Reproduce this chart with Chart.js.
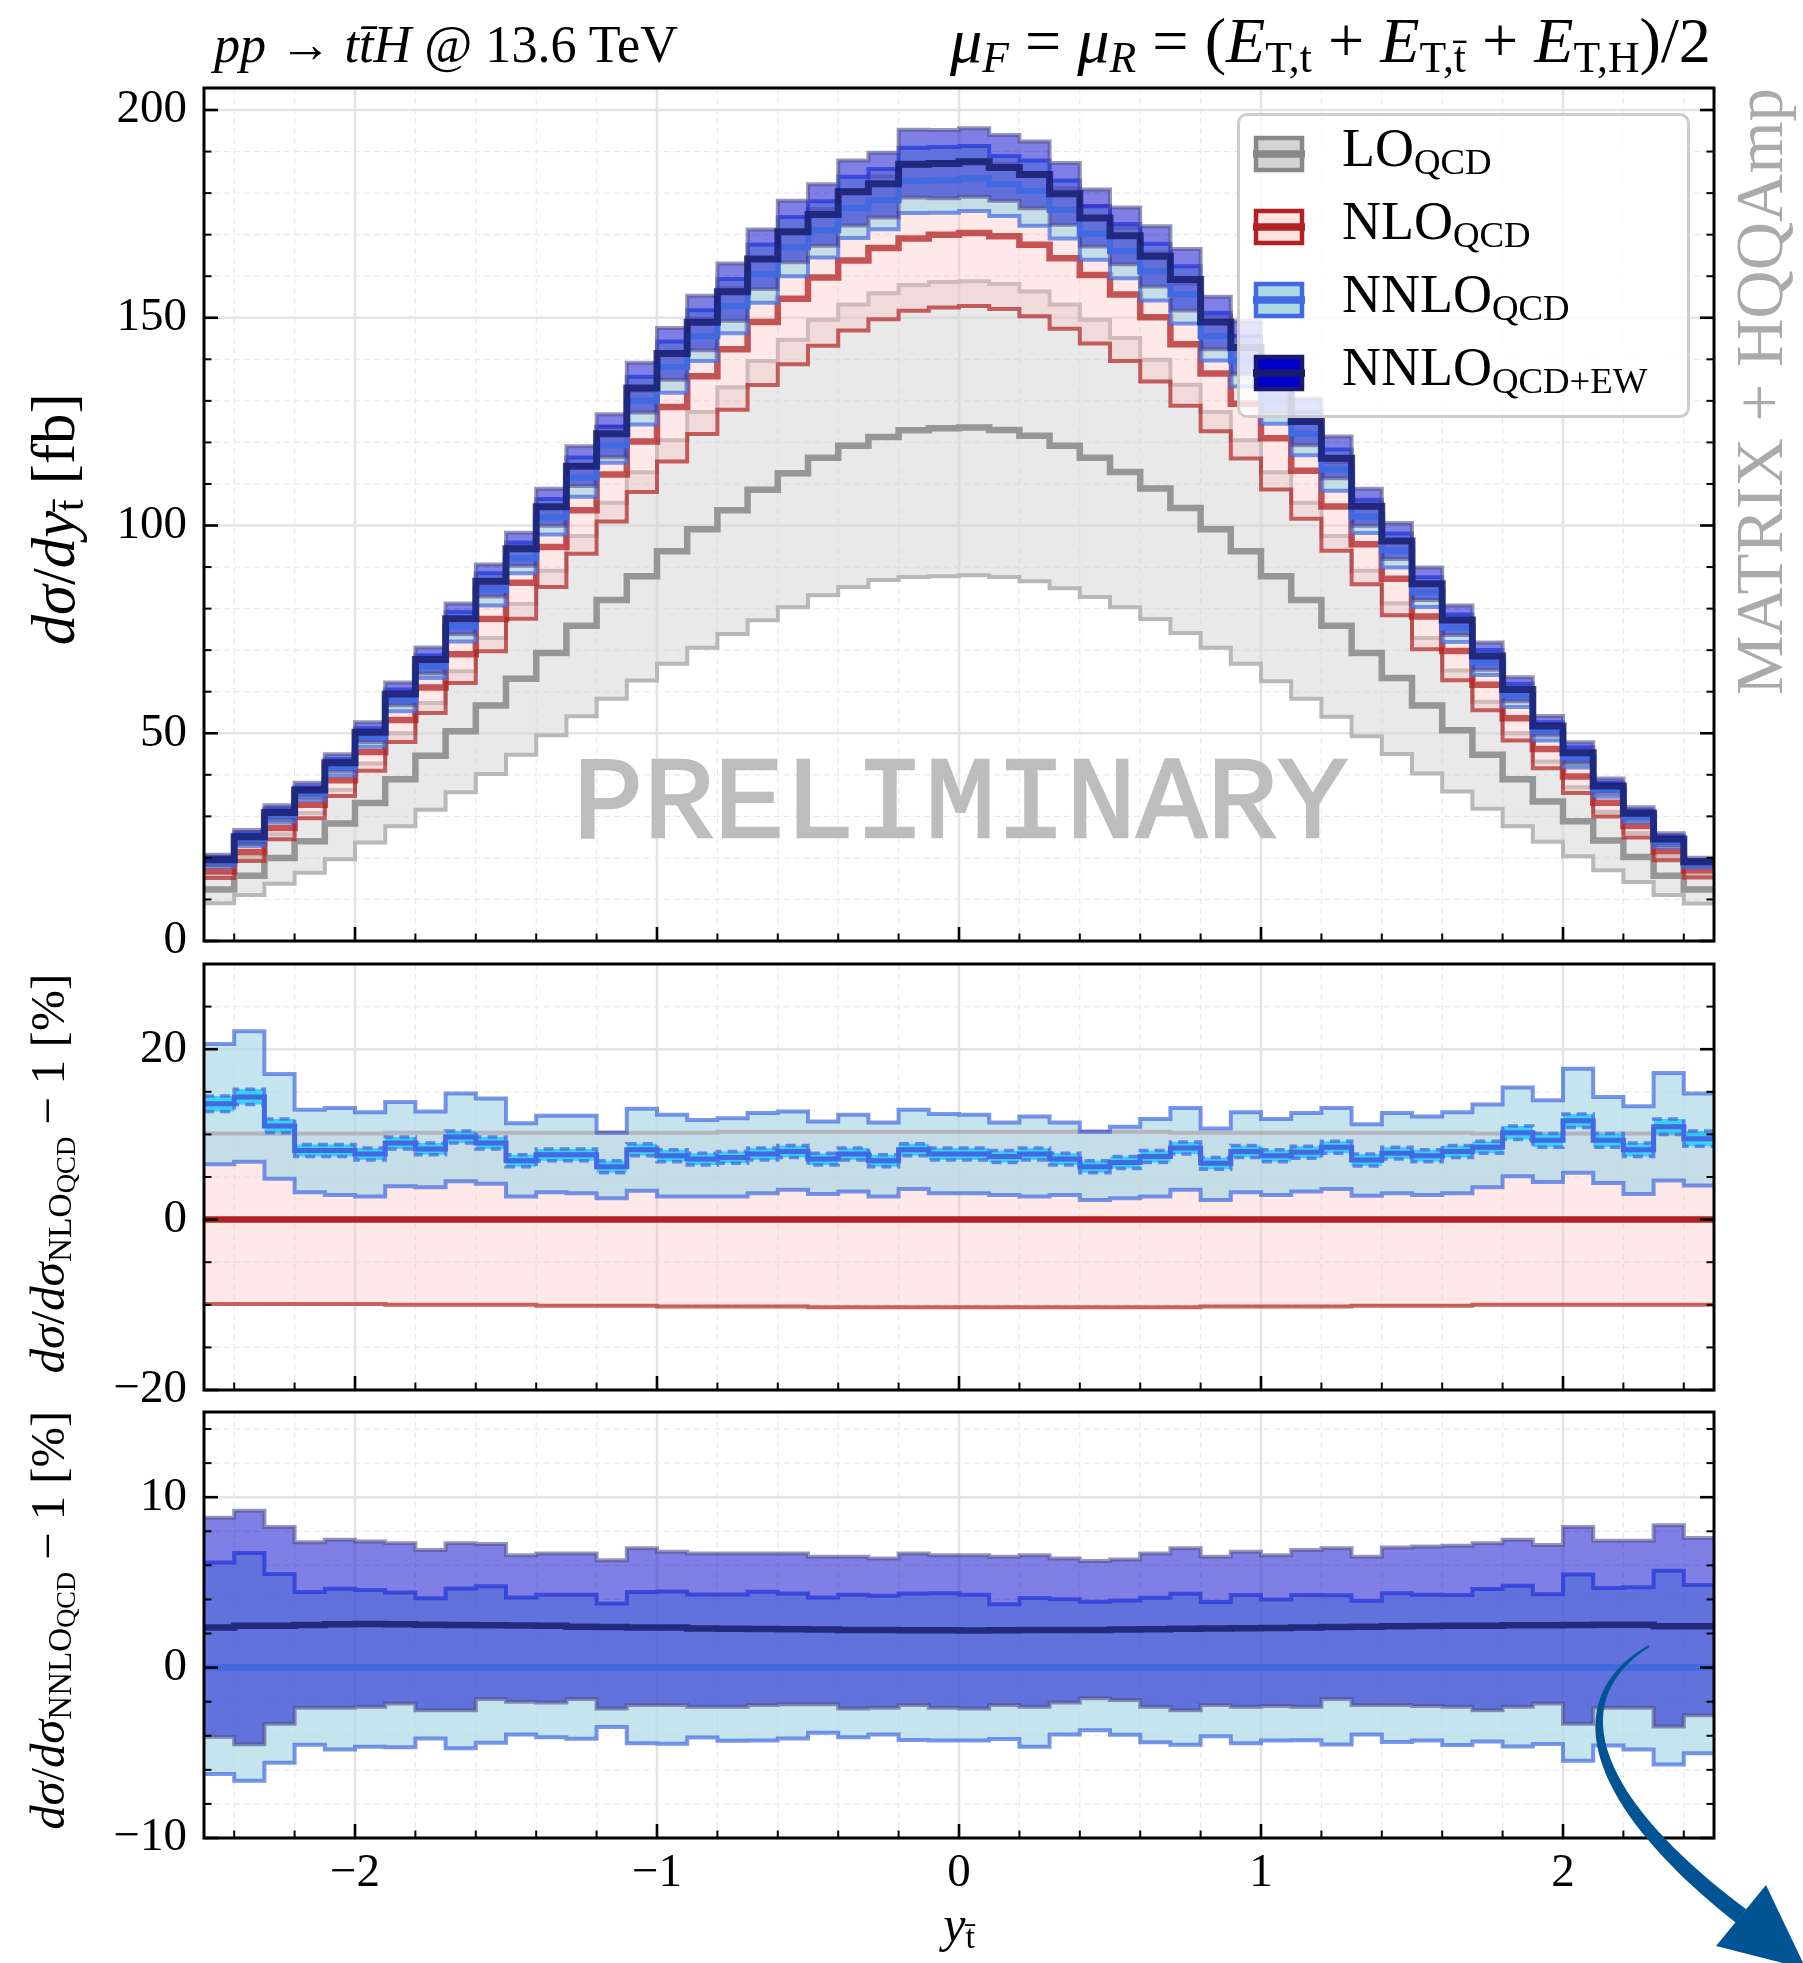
<!DOCTYPE html>
<html lang="en">
<head>
<meta charset="UTF-8">
<title>ttH rapidity of the anti-top</title>
<script src="https://cdn.jsdelivr.net/npm/chart.js"></script>
<style>
  html, body { margin: 0; padding: 0; background: #fff; }
  body { width: 1803px; height: 1963px; position: relative; overflow: hidden; }
  canvas.layer { position: absolute; left: 0; top: 0; width: 1803px; height: 1963px; }
  .txt { position: absolute; left: 0; top: 0; white-space: nowrap; line-height: 1;
         font-family: 'Liberation Serif', serif; color: #000; }
  .txt sub { font-size: 0.68em; vertical-align: -0.22em; line-height: 0; }
  .txt sub sub { font-size: 0.8em; vertical-align: -0.15em; }
  .stamp { -webkit-text-stroke: 2.5px #bdbdbd; }
  #legend { position: absolute; left: 1237px; top: 113px; width: 453px; height: 305px; box-sizing: border-box;
            border: 3px solid rgba(200,200,200,0.9); border-radius: 10px; background: rgba(255,255,255,0.8); }
  .handle { position: absolute; }
  #arrow { position: absolute; left: 0; top: 0; }
</style>
</head>
<body>
<canvas id="cMain" class="layer"></canvas>
<canvas id="cR1" class="layer"></canvas>
<canvas id="cR2" class="layer"></canvas>
<div id="legend"></div>
<svg id="arrow" width="1803" height="1963"></svg>
<script>
// bin edges of the y(tbar) histogram, 50 bins of 0.1
const binEdges = [-2.5, -2.4, -2.3, -2.2, -2.1, -2.0, -1.9, -1.8, -1.7, -1.6, -1.5, -1.4, -1.3, -1.2, -1.1,
  -1.0, -0.9, -0.8, -0.7, -0.6, -0.5, -0.4, -0.3, -0.2, -0.1, 0.0, 0.1, 0.2, 0.3, 0.4, 0.5, 0.6, 0.7, 0.8,
  0.9, 1.0, 1.1, 1.2, 1.3, 1.4, 1.5, 1.6, 1.7, 1.8, 1.9, 2.0, 2.1, 2.2, 2.3, 2.4, 2.5];

// main panel, fb
const loCentral = [12.4, 15.7, 20.0, 24.0, 28.3, 33.2, 38.9, 44.6, 50.5, 56.7,
  63.1, 69.3, 75.9, 82.1, 87.8, 93.8, 99.1, 103.7, 108.6, 112.6,
  116.3, 119.2, 121.3, 122.9, 123.4, 123.6, 123.0, 121.6, 119.2, 116.3,
  112.9, 108.9, 104.2, 99.1, 93.8, 87.8, 82.1, 75.9, 69.3, 63.3,
  56.7, 50.7, 44.8, 38.9, 33.6, 28.8, 24.2, 20.2, 15.7, 12.4];
const loUp = [15.9, 20.2, 25.7, 30.8, 36.4, 42.7, 50.0, 57.3, 64.9, 72.9,
  81.1, 89.1, 97.5, 105.5, 112.8, 120.5, 127.3, 133.3, 139.6, 144.7,
  149.5, 153.2, 155.9, 157.9, 158.6, 158.8, 158.1, 156.3, 153.2, 149.5,
  145.1, 139.9, 133.9, 127.3, 120.5, 112.8, 105.5, 97.5, 89.1, 81.3,
  72.9, 65.1, 57.6, 50.0, 43.2, 37.0, 31.1, 26.0, 20.2, 15.9];
const loDn = [9.1, 11.1, 13.8, 16.4, 19.7, 23.7, 27.6, 31.6, 35.8, 40.2,
  44.8, 49.5, 54.1, 58.3, 62.7, 66.7, 70.6, 73.9, 77.2, 80.3,
  83.2, 85.2, 86.9, 87.6, 87.8, 88.0, 87.6, 86.6, 84.9, 82.8,
  80.3, 77.5, 74.1, 70.6, 66.7, 62.5, 58.3, 54.0, 49.3, 45.0,
  40.3, 36.0, 31.8, 27.6, 23.9, 20.4, 17.0, 14.2, 11.1, 9.0];
const nloCentral = [16.8, 21.4, 27.2, 32.8, 38.7, 45.5, 53.2, 61.0, 69.0, 77.5,
  86.2, 94.8, 103.7, 112.3, 120.2, 128.5, 135.9, 142.4, 149.0, 154.6,
  159.7, 163.8, 166.8, 169.1, 170.0, 170.4, 169.6, 167.6, 164.3, 160.3,
  155.6, 150.1, 143.6, 136.6, 129.3, 121.0, 113.2, 104.6, 95.5, 87.2,
  78.1, 69.8, 61.7, 53.6, 46.2, 39.6, 33.3, 27.7, 21.6, 17.0];

// middle panel, % w.r.t. NLO_QCD
const nloUpPct = [10.1, 10.1, 10.1, 10.1, 10.1, 10.1, 10.2, 10.2, 10.2, 10.2,
  10.2, 10.2, 10.2, 10.2, 10.2, 10.2, 10.2, 10.3, 10.3, 10.3,
  10.3, 10.3, 10.3, 10.3, 10.3, 10.3, 10.3, 10.3, 10.3, 10.3,
  10.3, 10.3, 10.2, 10.2, 10.2, 10.2, 10.2, 10.2, 10.2, 10.2,
  10.2, 10.2, 10.1, 10.1, 10.1, 10.1, 10.1, 10.1, 10.1, 10.1];
const nloDnPct = [-9.9, -9.9, -9.9, -9.9, -9.9, -9.9, -10.0, -10.0, -10.0, -10.0,
  -10.0, -10.1, -10.1, -10.1, -10.1, -10.2, -10.2, -10.2, -10.2, -10.2,
  -10.3, -10.3, -10.3, -10.3, -10.3, -10.3, -10.3, -10.3, -10.3, -10.3,
  -10.3, -10.3, -10.3, -10.2, -10.2, -10.2, -10.2, -10.2, -10.1, -10.1,
  -10.1, -10.1, -10.0, -10.0, -10.0, -10.0, -10.0, -10.0, -10.0, -10.0];
const nnloPct = [13.6, 14.4, 11.0, 8.1, 8.1, 7.7, 9.0, 8.3, 9.7, 9.0,
  6.9, 7.6, 7.6, 6.2, 8.2, 7.5, 7.1, 7.3, 7.7, 8.0,
  7.1, 7.7, 6.9, 8.2, 7.7, 7.7, 7.4, 7.7, 7.1, 6.2,
  6.7, 7.4, 8.4, 6.6, 8.0, 7.5, 7.9, 8.5, 7.0, 7.8,
  7.5, 8.0, 8.5, 10.2, 9.3, 11.6, 9.3, 8.2, 10.9, 9.5];
const nnloUpPct = [20.6, 22.1, 17.1, 12.9, 13.1, 12.6, 13.8, 12.7, 14.8, 14.2,
  11.3, 12.2, 12.2, 10.2, 13.0, 12.3, 11.7, 11.9, 12.5, 12.7,
  11.5, 12.3, 11.4, 12.9, 12.4, 12.3, 11.4, 12.1, 11.4, 10.3,
  10.9, 11.8, 13.1, 10.7, 12.6, 11.8, 12.5, 13.1, 11.2, 12.5,
  12.1, 12.6, 13.5, 15.5, 14.0, 17.7, 14.4, 13.3, 17.2, 14.8];
const nnloDnPct = [6.5, 6.8, 4.8, 3.2, 2.9, 2.7, 3.9, 3.8, 4.5, 4.2,
  2.7, 3.2, 3.1, 2.5, 3.4, 2.7, 2.7, 2.7, 3.1, 3.5,
  3.0, 3.3, 2.7, 3.6, 3.1, 3.1, 2.9, 2.7, 2.9, 2.3,
  2.5, 2.7, 3.5, 2.3, 3.2, 2.9, 3.3, 3.6, 2.8, 3.1,
  2.9, 3.1, 3.8, 5.1, 4.4, 5.5, 4.3, 3.0, 4.6, 4.0];
// statistical error of the NNLO central value, %
const nnloStatPct = [0.9, 0.9, 0.8, 0.7, 0.7, 0.7, 0.7, 0.7, 0.7, 0.7,
  0.7, 0.7, 0.7, 0.7, 0.7, 0.7, 0.7, 0.7, 0.7, 0.7,
  0.7, 0.7, 0.7, 0.7, 0.7, 0.7, 0.7, 0.7, 0.7, 0.7,
  0.7, 0.7, 0.7, 0.7, 0.7, 0.7, 0.7, 0.7, 0.7, 0.7,
  0.7, 0.7, 0.7, 0.8, 0.8, 0.8, 0.8, 0.8, 0.9, 0.9];

// bottom panel, % w.r.t. NNLO_QCD
const ewPct = [2.36, 2.45, 2.46, 2.50, 2.55, 2.56, 2.55, 2.52, 2.50, 2.49,
  2.47, 2.45, 2.40, 2.38, 2.36, 2.35, 2.30, 2.28, 2.27, 2.25,
  2.24, 2.21, 2.20, 2.19, 2.19, 2.18, 2.19, 2.20, 2.20, 2.21,
  2.24, 2.25, 2.28, 2.30, 2.31, 2.33, 2.35, 2.38, 2.40, 2.42,
  2.44, 2.45, 2.46, 2.48, 2.49, 2.50, 2.52, 2.51, 2.43, 2.42];
const ewUpPct = [8.80, 9.20, 8.25, 7.35, 7.50, 7.40, 7.30, 6.90, 7.30, 7.25,
  6.60, 6.70, 6.70, 6.30, 7.00, 6.80, 6.70, 6.70, 6.70, 6.70,
  6.50, 6.50, 6.40, 6.70, 6.60, 6.60, 6.50, 6.60, 6.40, 6.25,
  6.35, 6.70, 7.00, 6.50, 6.80, 6.60, 6.90, 7.00, 6.50, 7.05,
  7.10, 7.15, 7.30, 7.50, 7.20, 8.25, 7.45, 7.45, 8.35, 7.60];
const ewDnPct = [-4.06, -4.50, -3.30, -2.35, -2.35, -2.30, -2.10, -2.50, -2.50, -1.85,
  -2.00, -2.05, -1.85, -2.40, -2.20, -2.20, -2.30, -2.30, -2.20, -2.15,
  -2.15, -2.40, -2.35, -2.20, -2.35, -2.40, -2.20, -2.30, -2.05, -1.80,
  -1.90, -2.30, -2.50, -2.20, -2.30, -2.25, -2.30, -1.85, -2.20, -2.20,
  -2.25, -2.30, -2.50, -2.30, -2.10, -3.30, -2.35, -2.35, -3.45, -2.80];

// tick positions
const xTicks = [-2.4, -2.2, -2.0, -1.8, -1.6, -1.4, -1.2, -1.0, -0.8, -0.6, -0.4, -0.2, 0,
  0.2, 0.4, 0.6, 0.8, 1.0, 1.2, 1.4, 1.6, 1.8, 2.0, 2.2, 2.4];
const mainYTicks = [0, 10, 20, 30, 40, 50, 60, 70, 80, 90, 100, 110, 120, 130, 140, 150, 160, 170, 180, 190, 200];
const r1YTicks = [-20, -15, -10, -5, 0, 5, 10, 15, 20, 25];
const r2YTicks = [-10, -8, -6, -4, -2, 0, 2, 4, 6, 8, 10, 12, 14];

const legendItems = [
  { name: 'LO', sub: 'QCD', edge: '#888888', fill: '#d3d3d3', line: '#888888' },
  { name: 'NLO', sub: 'QCD', edge: '#b22222', fill: '#ffe4e1', line: '#b22222' },
  { name: 'NNLO', sub: 'QCD', edge: '#4169e1', fill: '#add8e6', line: '#4169e1' },
  { name: 'NNLO', sub: 'QCD+EW', edge: '#191970', fill: '#0000cd', line: '#191970' }
];

// main panel curves follow from the ratios
const scalePct = (base, pct) => base.map((b, i) => b * (1 + pct[i] / 100));
const relPct = (num, den) => num.map((v, i) => (v / den[i] - 1) * 100);
const nloUp = scalePct(nloCentral, nloUpPct);
const nloDn = scalePct(nloCentral, nloDnPct);
const nnloCentral = scalePct(nloCentral, nnloPct);
const nnloUp = scalePct(nloCentral, nnloUpPct);
const nnloDn = scalePct(nloCentral, nnloDnPct);
const ewCentral = scalePct(nnloCentral, ewPct);
const ewUp = scalePct(nnloCentral, ewUpPct);
const ewDn = scalePct(nnloCentral, ewDnPct);
const nnloUpRel = relPct(nnloUp, nnloCentral);
const nnloDnRel = relPct(nnloDn, nnloCentral);
const nnloStatUp = nnloPct.map((v, i) => v + nnloStatPct[i]);
const nnloStatDn = nnloPct.map((v, i) => v - nnloStatPct[i]);
const zeroLine = nloCentral.map(() => 0);

// colours
const C = {
  loFill: 'rgba(211,211,211,0.5)', loEdge: '#b8b8b8', loLine: '#969696',
  nloFill: 'rgba(255,190,190,0.35)', nloEdge: 'rgba(178,34,34,0.7)', nloLine: 'rgba(178,34,34,0.75)',
  nnloFill: 'rgba(173,216,230,0.7)', nnloEdge: 'rgba(65,105,225,0.7)', nnloLine: '#4169e1',
  ewFill: 'rgba(0,0,205,0.5)', ewEdge: 'rgba(80,80,140,0.6)', ewLine: 'rgba(25,30,110,0.85)'
};

Chart.defaults.font.family = "'Liberation Serif', serif";
Chart.defaults.color = '#000';

const PAGE_W = 1803, PAGE_H = 1963;
const AX_LEFT = 204, AX_RIGHT = 1714;

function hist(vals) {
  const pts = vals.map((v, i) => ({ x: binEdges[i], y: v }));
  pts.push({ x: binEdges[binEdges.length - 1], y: vals[vals.length - 1] });
  return pts;
}

function line(vals, color, width, dash) {
  return { data: hist(vals), borderColor: color, borderWidth: width, borderDash: dash || [],
    fill: false, stepped: 'before', pointRadius: 0, borderJoinStyle: 'miter' };
}

// band = invisible upper line filled down to the lower edge, then both edges on top
function addBand(list, up, dn, fillColor, edgeColor, edgeWidth, dash) {
  const i = list.length;
  list.push({ data: hist(up), borderWidth: 0, borderColor: 'rgba(0,0,0,0)', backgroundColor: fillColor,
    fill: i + 1, stepped: 'before', pointRadius: 0 });
  list.push(line(dn, edgeColor, edgeWidth, dash));
  list.push(line(up, edgeColor, edgeWidth, dash));
}

function isMajor(v, step) {
  return Math.abs(v / step - Math.round(v / step)) < 1e-6;
}
function fmt(v) {
  const r = Math.round(v);
  return r < 0 ? '\u2212' + Math.abs(r) : String(r);
}

function framePlugin(cfg) {
  return {
    id: 'frame_' + cfg.name,
    beforeDatasetsDraw(chart) {
      const { ctx, chartArea: a } = chart;
      const xs = chart.scales.x, ys = chart.scales.y;
      ctx.save();
      const grid = (x1, y1, x2, y2, major) => {
        ctx.beginPath();
        ctx.strokeStyle = major ? '#e4e4e4' : '#eaeaea';
        ctx.lineWidth = major ? 2.6 : 1.2;
        ctx.setLineDash(major ? [] : [6, 4]);
        ctx.moveTo(x1, y1); ctx.lineTo(x2, y2); ctx.stroke();
      };
      xTicks.forEach(v => { const p = xs.getPixelForValue(v); grid(p, a.top, p, a.bottom, isMajor(v, 1)); });
      cfg.yTicks.forEach(v => { const p = ys.getPixelForValue(v); grid(a.left, p, a.right, p, isMajor(v, cfg.major)); });
      ctx.restore();
    },
    afterDatasetsDraw(chart) {
      const { ctx, chartArea: a } = chart;
      const xs = chart.scales.x, ys = chart.scales.y;
      ctx.save();
      ctx.strokeStyle = '#000';
      ctx.setLineDash([]);
      const tick = (x1, y1, x2, y2, major) => {
        ctx.beginPath();
        ctx.lineWidth = major ? 2.6 : 2;
        ctx.moveTo(x1, y1); ctx.lineTo(x2, y2); ctx.stroke();
      };
      xTicks.forEach(v => {
        const p = xs.getPixelForValue(v), m = isMajor(v, 1), len = m ? 14 : 7.5;
        tick(p, a.bottom, p, a.bottom - len, m);
      });
      cfg.yTicks.forEach(v => {
        const p = ys.getPixelForValue(v), m = isMajor(v, cfg.major), len = m ? 14 : 7.5;
        tick(a.left, p, a.left + len, p, m);
        tick(a.right, p, a.right - len, p, m);
      });
      ctx.lineWidth = 3;
      ctx.strokeRect(a.left, a.top, a.right - a.left, a.bottom - a.top);
      ctx.restore();
    }
  };
}

function makeChart(id, datasets, cfg) {
  datasets.forEach((d, k) => { d.order = datasets.length - k; });
  const cv = document.getElementById(id);
  cv.width = PAGE_W; cv.height = PAGE_H;
  const xAxisH = cfg.showX ? 70 : 0;
  return new Chart(cv, {
    type: 'line',
    data: { datasets },
    options: {
      responsive: false, animation: false, events: [],
      layout: { padding: { left: 0, right: PAGE_W - AX_RIGHT, top: cfg.top, bottom: PAGE_H - cfg.bottom - xAxisH } },
      plugins: { legend: { display: false }, tooltip: { enabled: false } },
      scales: {
        x: {
          type: 'linear', min: -2.5, max: 2.5,
          grid: { display: false, drawTicks: false }, border: { display: false },
          afterBuildTicks: s => { s.ticks = xTicks.map(v => ({ value: v })); },
          afterFit: s => { s.height = xAxisH; s.paddingLeft = 0; s.paddingRight = 0; },
          ticks: { display: cfg.showX, autoSkip: false, minRotation: 0, maxRotation: 0, padding: 7,
            font: { size: 47 }, color: '#000', callback: v => isMajor(v, 1) ? fmt(v) : '' }
        },
        y: {
          type: 'linear', min: cfg.min, max: cfg.max,
          grid: { display: false, drawTicks: false }, border: { display: false },
          afterBuildTicks: s => { s.ticks = cfg.yTicks.map(v => ({ value: v })); },
          afterFit: s => { s.width = AX_LEFT; s.paddingTop = 0; s.paddingBottom = 0; },
          ticks: { autoSkip: false, padding: 17, font: { size: 47 }, color: '#000',
            callback: v => isMajor(v, cfg.major) ? fmt(v) : '' }
        }
      }
    },
    plugins: [framePlugin(cfg)]
  });
}

// main panel
const mainSets = [];
addBand(mainSets, loUp, loDn, C.loFill, C.loEdge, 4);
mainSets.push(line(loCentral, C.loLine, 6.5));
addBand(mainSets, nloUp, nloDn, C.nloFill, C.nloEdge, 4);
mainSets.push(line(nloCentral, C.nloLine, 6.5));
addBand(mainSets, nnloUp, nnloDn, C.nnloFill, C.nnloEdge, 4);
addBand(mainSets, ewUp, ewDn, C.ewFill, C.ewEdge, 4);
mainSets.push(line(nnloCentral, C.nnloLine, 6));
mainSets.push(line(ewCentral, C.ewLine, 7));
makeChart('cMain', mainSets, { name: 'main', top: 88, bottom: 941, min: 0, max: 205.3,
  yTicks: mainYTicks, major: 50, showX: false });

// ratio to NLO
const r1Sets = [];
addBand(r1Sets, nloUpPct, nloDnPct, C.nloFill, C.nloEdge, 4);
r1Sets.push(line(zeroLine, '#b22222', 6.5));
addBand(r1Sets, nnloUpPct, nnloDnPct, C.nnloFill, C.nnloEdge, 4);
addBand(r1Sets, nnloStatUp, nnloStatDn, 'rgba(0,200,255,0.7)', 'rgba(65,105,225,0.75)', 3.5, [10, 6]);
r1Sets.push(line(nnloPct, C.nnloLine, 5));
makeChart('cR1', r1Sets, { name: 'r1', top: 964, bottom: 1390, min: -20, max: 30,
  yTicks: r1YTicks, major: 20, showX: false });

// ratio to NNLO
const r2Sets = [];
addBand(r2Sets, nnloUpRel, nnloDnRel, C.nnloFill, C.nnloEdge, 4);
addBand(r2Sets, ewUpPct, ewDnPct, C.ewFill, C.ewEdge, 4);
r2Sets.push(line(zeroLine, C.nnloLine, 6.5));
r2Sets.push(line(ewPct, C.ewLine, 6.5));
makeChart('cR2', r2Sets, { name: 'r2', top: 1412, bottom: 1838, min: -10, max: 15,
  yTicks: r2YTicks, major: 10, showX: true });

// ---- html text ----
function placeText(html, o) {
  const el = document.createElement('div');
  el.className = 'txt' + (o.cls ? ' ' + o.cls : '');
  el.innerHTML = html;
  el.style.fontSize = o.size + 'px';
  if (o.family) el.style.fontFamily = o.family;
  if (o.color) el.style.color = o.color;
  document.body.appendChild(el);
  if (o.width) {
    const w0 = el.getBoundingClientRect().width;
    el.style.fontSize = (o.size * o.width / w0) + 'px';
  }
  const probe = document.createElement('span');
  probe.style.cssText = 'display:inline-block;width:0;height:0;vertical-align:baseline';
  el.appendChild(probe);
  const r = el.getBoundingClientRect();
  const base = probe.getBoundingClientRect().top - r.top;
  if (o.rotate) {
    const cx = o.bx - (base - r.height / 2);
    el.style.left = (cx - r.width / 2) + 'px';
    el.style.top = (o.cy - r.height / 2) + 'px';
    el.style.transform = 'rotate(-90deg)';
  } else {
    const left = o.center !== undefined ? o.center - r.width / 2 : o.left;
    el.style.left = left + 'px';
    el.style.top = (o.baseline - base) + 'px';
  }
  return el;
}

const tbar = 't\u0304';
placeText('<i>pp</i> \u2192 <i>t' + tbar + 'H</i> @ 13.6 TeV', { size: 46, left: 214, baseline: 62, width: 464 });
placeText('<i>\u03bc</i><sub><i>F</i></sub> = <i>\u03bc</i><sub><i>R</i></sub> = (<i>E</i><sub>T,t</sub> + <i>E</i><sub>T,' + tbar +
  '</sub> + <i>E</i><sub>T,H</sub>)/2', { size: 46, left: 950, baseline: 62, width: 761 });
placeText('<i>d\u03c3</i>/<i>dy</i><sub>' + tbar + '</sub> [fb]', { size: 48, rotate: true, bx: 74, cy: 519, width: 252 });
placeText('<i>d\u03c3</i>/<i>d\u03c3</i><sub>NLO<sub>QCD</sub></sub> \u2212 1 [%]', { size: 42, rotate: true, bx: 64, cy: 1174, width: 400 });
placeText('<i>d\u03c3</i>/<i>d\u03c3</i><sub>NNLO<sub>QCD</sub></sub> \u2212 1 [%]', { size: 42, rotate: true, bx: 64, cy: 1620, width: 419 });
placeText('<i>y</i><sub>' + tbar + '</sub>', { size: 50, center: 959, baseline: 1941 });
placeText('PRELIMINARY', { size: 120, family: "'Liberation Mono', monospace", color: '#bdbdbd', cls: 'stamp',
  left: 573, baseline: 837, width: 775 });
placeText('MATRIX + HQQAmp', { size: 64, color: '#aaaaaa', rotate: true, bx: 1782, cy: 391, width: 607 });

// legend
legendItems.forEach((it, k) => {
  const cy = 153.5 + 73 * k;
  const h = document.createElementNS('http://www.w3.org/2000/svg', 'svg');
  h.setAttribute('class', 'handle');
  h.setAttribute('width', 54); h.setAttribute('height', 40);
  h.style.left = '1252px'; h.style.top = (cy - 20) + 'px';
  h.innerHTML = '<rect x="4" y="4" width="46" height="32" fill="' + it.fill + '" stroke="' + it.edge + '" stroke-width="4.5"/>' +
    '<line x1="1" x2="53" y1="20" y2="20" stroke="' + it.line + '" stroke-width="7.5"/>';
  document.body.appendChild(h);
  placeText(it.name + '<sub>' + it.sub + '</sub>', { size: 54, left: 1342, baseline: 166 + 73 * k });
});

// curved arrow in the lower right corner
(function drawArrow() {
  const svg = document.getElementById('arrow');
  const P = [[1649, 1646], [1560, 1700], [1590, 1800], [1741, 1916]];
  const left = [], right = [];
  for (let k = 0; k <= 48; k++) {
    const t = k / 48, u = 1 - t;
    const x = u * u * u * P[0][0] + 3 * u * u * t * P[1][0] + 3 * u * t * t * P[2][0] + t * t * t * P[3][0];
    const y = u * u * u * P[0][1] + 3 * u * u * t * P[1][1] + 3 * u * t * t * P[2][1] + t * t * t * P[3][1];
    const dx = 3 * u * u * (P[1][0] - P[0][0]) + 6 * u * t * (P[2][0] - P[1][0]) + 3 * t * t * (P[3][0] - P[2][0]);
    const dy = 3 * u * u * (P[1][1] - P[0][1]) + 6 * u * t * (P[2][1] - P[1][1]) + 3 * t * t * (P[3][1] - P[2][1]);
    const len = Math.hypot(dx, dy), hw = 1 + 7.5 * t;
    left.push((x - dy / len * hw).toFixed(1) + ',' + (y + dx / len * hw).toFixed(1));
    right.unshift((x + dy / len * hw).toFixed(1) + ',' + (y - dx / len * hw).toFixed(1));
  }
  const col = '#005493';
  svg.innerHTML = '<polygon fill="' + col + '" points="' + left.concat(right).join(' ') + '"/>' +
    '<polygon fill="' + col + '" points="1806,1969 1716,1946 1766,1885"/>';
})();
</script>
</body>
</html>
